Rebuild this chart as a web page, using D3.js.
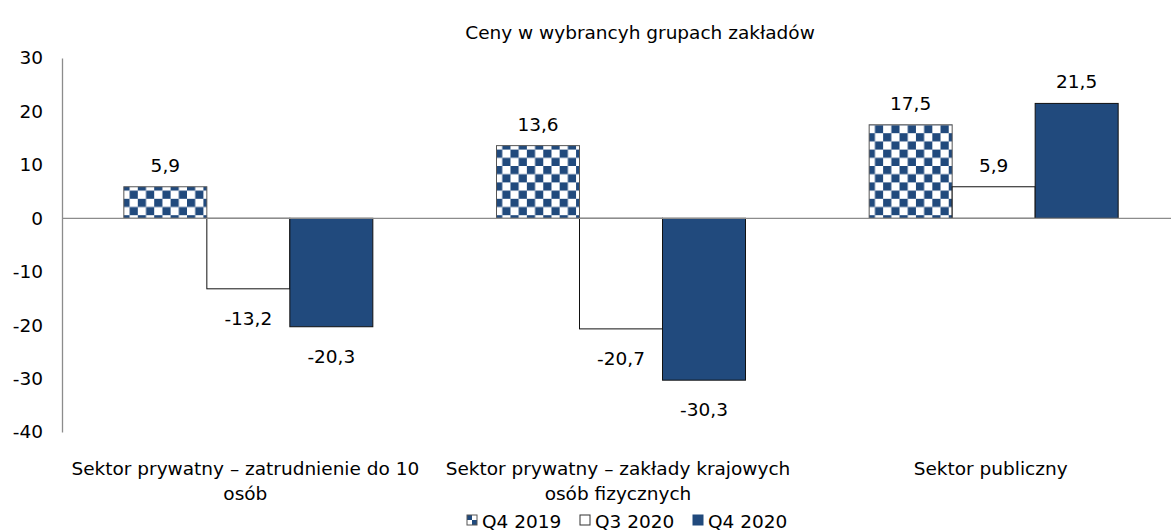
<!DOCTYPE html>
<html><head><meta charset="utf-8">
<script src="https://cdn.jsdelivr.net/npm/d3@7"></script>
<style>
html,body{margin:0;padding:0;background:#fff;}
text{font-family:"DejaVu Sans",sans-serif;fill:#000;}
</style></head>
<body><svg id="c" width="1171" height="532"></svg>
<script>
const title = "Ceny w wybrancyh grupach zakładów";
const categories = [
  ["Sektor prywatny – zatrudnienie do 10", "osób"],
  ["Sektor prywatny – zakłady krajowych", "osób fizycznych"],
  ["Sektor publiczny"]
];
const seriesNames = ["Q4 2019", "Q3 2020", "Q4 2020"];
const q4_2019 = [5.9, 13.6, 17.5];
const q3_2020 = [-13.2, -20.7, 5.9];
const q4_2020 = [-20.3, -30.3, 21.5];
const yTicks = [30, 20, 10, 0, -10, -20, -30, -40];

const seriesValues = [q4_2019, q3_2020, q4_2020];
const BLUE = "#214a7d";
const FS = 18.5;
const svg = d3.select("#c");
const fmtVal = v => v.toFixed(1).replace(".", ",");

const defs = svg.append("defs");
const pat = defs.append("pattern").attr("id","chk").attr("patternUnits","userSpaceOnUse")
  .attr("width",16.4).attr("height",16.4).attr("x",125).attr("y",2);
pat.append("rect").attr("width",16.4).attr("height",16.4).attr("fill","#fff");
pat.append("rect").attr("width",8.2).attr("height",8.2).attr("fill",BLUE);
pat.append("rect").attr("x",8.2).attr("y",8.2).attr("width",8.2).attr("height",8.2).attr("fill",BLUE);
const pat2 = defs.append("pattern").attr("id","chkS").attr("patternUnits","userSpaceOnUse")
  .attr("width",10).attr("height",10).attr("x",467).attr("y",515);
pat2.append("rect").attr("width",10).attr("height",10).attr("fill","#fff");
pat2.append("rect").attr("width",5).attr("height",5).attr("fill",BLUE);
pat2.append("rect").attr("x",5).attr("y",5).attr("width",5).attr("height",5).attr("fill",BLUE);

const fills = ["url(#chk)", "#fff", BLUE];
const legendFills = ["url(#chkS)", "#fff", BLUE];

const x0 = d3.scaleBand().domain(d3.range(categories.length)).range([62, 1180]);
const x1 = d3.scaleBand().domain(d3.range(seriesNames.length)).range([0, x0.bandwidth()]).paddingOuter(0.745).paddingInner(0);
const y = d3.scaleLinear().domain([-40, 30]).range([432, 58]);

// title
svg.append("text").attr("x",640).attr("y",39).attr("text-anchor","middle").attr("font-size",FS).text(title);

// y axis
const yAxis = d3.axisLeft(y).tickValues(yTicks).tickSize(0).tickPadding(19).tickFormat(d => String(d));
const gy = svg.append("g").attr("transform","translate(62,0)").call(yAxis);
gy.select(".domain").attr("stroke","#8c8c8c").attr("stroke-width",1.3);
gy.selectAll("text").attr("font-size",FS).attr("font-family",null).attr("fill","#000").attr("text-anchor","end");

// bars
const groups = svg.append("g").selectAll("g").data(categories).join("g")
  .attr("transform",(d,i)=>`translate(${x0(i)},0)`);
groups.each(function(cat, ci){
  const g = d3.select(this);
  seriesValues.forEach((vals, si)=>{
    const v = vals[ci];
    g.append("rect")
      .attr("x", x1(si)).attr("width", x1.bandwidth())
      .attr("y", y(Math.max(0,v))).attr("height", Math.abs(y(v)-y(0)))
      .attr("fill", fills[si]).attr("stroke", si===0 ? "#555" : "#111").attr("stroke-width",1);
    g.append("text")
      .attr("x", x1(si)+x1.bandwidth()/2)
      .attr("y", v>=0 ? y(v)-15 : y(v)+36)
      .attr("text-anchor","middle").attr("font-size",FS)
      .text(fmtVal(v));
  });
});

// zero line
svg.append("line").attr("x1",62).attr("x2",1171).attr("y1",y(0)).attr("y2",y(0)).attr("stroke","#8c8c8c").attr("stroke-width",1.3);

// category labels
groups.each(function(cat, ci){
  const t = d3.select(this).append("text").attr("text-anchor","middle").attr("font-size",FS);
  cat.forEach((line, li)=>{
    t.append("tspan").attr("x", x0.bandwidth()/2 - 3).attr("y", 475 + li*25).text(line);
  });
});

// legend
const legX = [467, 580, 693];
seriesNames.forEach((s,i)=>{
  svg.append("rect").attr("x",legX[i]).attr("y",515).attr("width",10).attr("height",10)
    .attr("fill",legendFills[i]).attr("stroke", i===1 ? "#333" : (i===0?"#555":BLUE)).attr("stroke-width",1);
  svg.append("text").attr("x",legX[i]+15).attr("y",528).attr("font-size",FS).text(s);
});
</script></body></html>
